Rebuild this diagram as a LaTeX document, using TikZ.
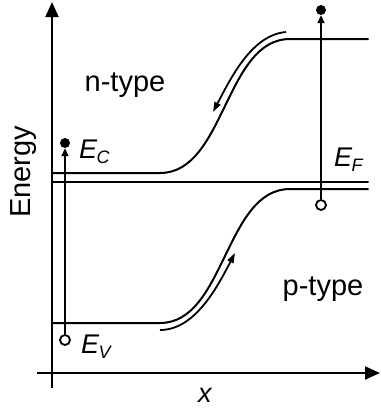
\documentclass[tikz,border=0pt]{standalone}
\usepackage{fontspec}
\setmainfont{Liberation Sans}
\usetikzlibrary{arrows.meta}
\newcommand{\bandlbl}[2]{#1\kern-0.5pt\raisebox{-5.5pt}{\fontsize{18}{18}\selectfont #2}}
\begin{document}
\begin{tikzpicture}[x=1pt,y=-1pt,
  band/.style={line width=2pt, line cap=round},
  axis/.style={line width=2pt, -{Triangle[length=15pt,width=13pt]}},
  flow/.style={line width=1.8pt, -{Triangle[length=10pt,width=6.5pt]}},
  jump/.style={line width=1.8pt, -{Triangle[length=8pt,width=7pt]}},
  elec/.style={circle, fill=black, inner sep=0pt, minimum size=10pt},
  hole/.style={circle, draw=black, fill=white, line width=1.8pt, inner sep=0pt, minimum size=10pt},
  lbl/.style={inner sep=0pt, font=\fontsize{29}{31}\selectfont},
  sym/.style={inner sep=0pt, anchor=base west, font=\fontsize{27}{29}\selectfont\itshape}]
\useasboundingbox (0,0) rectangle (381,408);
% axes
\coordinate (ybot) at (52,388);
\coordinate (ytop) at (52,2);
\coordinate (xleft) at (37,373);
\coordinate (xright) at (380,373);
\draw[axis] (ybot) -- (ytop);
\draw[axis] (xleft) -- (xright);
% bands
\coordinate (cl) at (52,173);
\coordinate (cs) at (160,173);
\coordinate (ce) at (290,39);
\coordinate (cr) at (368,39);
\coordinate (vl) at (52,323);
\coordinate (vs) at (160,323);
\coordinate (ve) at (290,189);
\coordinate (vr) at (368,189);
\coordinate (fl) at (52,182);
\coordinate (fr) at (368,182);
\draw[band] (cl) -- (cs) .. controls (225,173) and (225,39) .. (ce) -- (cr);
\draw[band] (vl) -- (vs) .. controls (225,323) and (225,189) .. (ve) -- (vr);
\draw[band] (fl) -- (fr);
% flow arrows along the curves
\coordinate (ua) at (286,32);
\coordinate (ub) at (213,112);
\draw[flow] (ua) .. controls (252,35) and (231.5,76.7) .. (ub);
\coordinate (la) at (160,330);
\coordinate (lb) at (235,253);
\draw[flow] (la) .. controls (194.5,330) and (216.6,288.4) .. (lb);
% transitions
\node[hole] (h1) at (65,340) {};
\node[elec] (e1) at (65,143) {};
\draw[jump] (h1) -- (e1);
\node[hole] (h2) at (321,205) {};
\node[elec] (e2) at (321,10) {};
\draw[jump] (h2) -- (e2);
% labels
\node[lbl] (nt) at (125,85) {n-type};
\node[lbl] (pt) at (323,289) {p-type};
\node[lbl, rotate=90] (en) at (24,172) {Energy};
\node[sym] (xl) at (198,402) {x};
\node[sym] (ec) at (79,158) {\bandlbl{E}{C}};
\node[sym] (ef) at (334,166) {\bandlbl{E}{F}};
\node[sym] (ev) at (81,353) {\bandlbl{E}{V}};
\end{tikzpicture}
\end{document}
